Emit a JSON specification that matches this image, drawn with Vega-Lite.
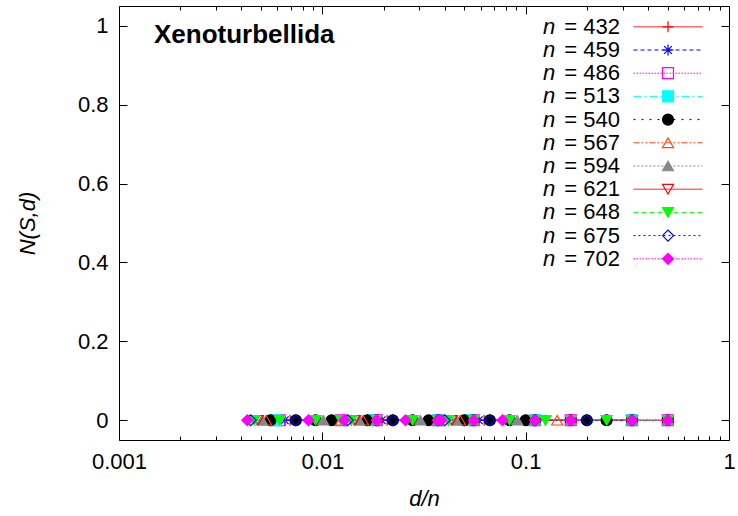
{
  "$schema": "https://vega.github.io/schema/vega-lite/v6.json",
  "width": 610,
  "height": 434,
  "autosize": {"type": "none"},
  "padding": {"left": 119, "top": 6, "right": 9, "bottom": 76},
  "background": "white",
  "config": {
    "font": "Liberation Sans",
    "view": {"stroke": null},
    "axis": {"grid": false, "domainColor": "#000", "tickColor": "#000", "tickOpacity": 1, "labelColor": "#000", "titleColor": "#000", "labelFontSize": 22, "titleFontSize": 22, "titleFontWeight": "normal", "domainWidth": 1, "tickWidth": 1},
    "legend": {"labelColor": "#000", "labelFontSize": 22, "labelFont": "Liberation Sans"}
  },
  "title": {"text": "Xenoturbellida", "anchor": "start", "frame": "group", "orient": "top", "offset": -42, "dx": 35, "fontSize": 26, "fontWeight": "bold", "font": "Liberation Sans", "color": "#000"},
  "data": {"values": [
    {"n":432,"dn":0.006944,"N":0},{"n":432,"dn":0.009259,"N":0},{"n":432,"dn":0.013889,"N":0},{"n":432,"dn":0.018519,"N":0},{"n":432,"dn":0.020833,"N":0},{"n":432,"dn":0.027778,"N":0},{"n":432,"dn":0.037037,"N":0},{"n":432,"dn":0.041667,"N":0},{"n":432,"dn":0.055556,"N":0},{"n":432,"dn":0.0625,"N":0},{"n":432,"dn":0.083333,"N":0},{"n":432,"dn":0.111111,"N":0},{"n":432,"dn":0.125,"N":0},{"n":432,"dn":0.166667,"N":0},{"n":432,"dn":0.25,"N":0},{"n":432,"dn":0.333333,"N":0},{"n":432,"dn":0.5,"N":0},
    {"n":459,"dn":0.006536,"N":0},{"n":459,"dn":0.019608,"N":0},{"n":459,"dn":0.037037,"N":0},{"n":459,"dn":0.058824,"N":0},{"n":459,"dn":0.111111,"N":0},{"n":459,"dn":0.333333,"N":0},
    {"n":486,"dn":0.006173,"N":0},{"n":486,"dn":0.012346,"N":0},{"n":486,"dn":0.018519,"N":0},{"n":486,"dn":0.037037,"N":0},{"n":486,"dn":0.055556,"N":0},{"n":486,"dn":0.111111,"N":0},{"n":486,"dn":0.166667,"N":0},{"n":486,"dn":0.333333,"N":0},{"n":486,"dn":0.5,"N":0},
    {"n":513,"dn":0.005848,"N":0},{"n":513,"dn":0.017544,"N":0},{"n":513,"dn":0.037037,"N":0},{"n":513,"dn":0.052632,"N":0},{"n":513,"dn":0.111111,"N":0},{"n":513,"dn":0.333333,"N":0},
    {"n":540,"dn":0.005556,"N":0},{"n":540,"dn":0.007407,"N":0},{"n":540,"dn":0.009259,"N":0},{"n":540,"dn":0.011111,"N":0},{"n":540,"dn":0.016667,"N":0},{"n":540,"dn":0.018519,"N":0},{"n":540,"dn":0.022222,"N":0},{"n":540,"dn":0.027778,"N":0},{"n":540,"dn":0.033333,"N":0},{"n":540,"dn":0.037037,"N":0},{"n":540,"dn":0.05,"N":0},{"n":540,"dn":0.055556,"N":0},{"n":540,"dn":0.066667,"N":0},{"n":540,"dn":0.083333,"N":0},{"n":540,"dn":0.1,"N":0},{"n":540,"dn":0.111111,"N":0},{"n":540,"dn":0.166667,"N":0},{"n":540,"dn":0.2,"N":0},{"n":540,"dn":0.25,"N":0},{"n":540,"dn":0.333333,"N":0},{"n":540,"dn":0.5,"N":0},
    {"n":567,"dn":0.005291,"N":0},{"n":567,"dn":0.012346,"N":0},{"n":567,"dn":0.015873,"N":0},{"n":567,"dn":0.037037,"N":0},{"n":567,"dn":0.047619,"N":0},{"n":567,"dn":0.111111,"N":0},{"n":567,"dn":0.142857,"N":0},{"n":567,"dn":0.333333,"N":0},
    {"n":594,"dn":0.005051,"N":0},{"n":594,"dn":0.010101,"N":0},{"n":594,"dn":0.015152,"N":0},{"n":594,"dn":0.018519,"N":0},{"n":594,"dn":0.030303,"N":0},{"n":594,"dn":0.037037,"N":0},{"n":594,"dn":0.045455,"N":0},{"n":594,"dn":0.055556,"N":0},{"n":594,"dn":0.090909,"N":0},{"n":594,"dn":0.111111,"N":0},{"n":594,"dn":0.166667,"N":0},{"n":594,"dn":0.333333,"N":0},{"n":594,"dn":0.5,"N":0},
    {"n":621,"dn":0.004831,"N":0},{"n":621,"dn":0.014493,"N":0},{"n":621,"dn":0.037037,"N":0},{"n":621,"dn":0.043478,"N":0},{"n":621,"dn":0.111111,"N":0},{"n":621,"dn":0.333333,"N":0},
    {"n":648,"dn":0.00463,"N":0},{"n":648,"dn":0.006173,"N":0},{"n":648,"dn":0.009259,"N":0},{"n":648,"dn":0.012346,"N":0},{"n":648,"dn":0.013889,"N":0},{"n":648,"dn":0.018519,"N":0},{"n":648,"dn":0.027778,"N":0},{"n":648,"dn":0.037037,"N":0},{"n":648,"dn":0.041667,"N":0},{"n":648,"dn":0.055556,"N":0},{"n":648,"dn":0.083333,"N":0},{"n":648,"dn":0.111111,"N":0},{"n":648,"dn":0.125,"N":0},{"n":648,"dn":0.166667,"N":0},{"n":648,"dn":0.25,"N":0},{"n":648,"dn":0.333333,"N":0},{"n":648,"dn":0.5,"N":0},
    {"n":675,"dn":0.004444,"N":0},{"n":675,"dn":0.007407,"N":0},{"n":675,"dn":0.013333,"N":0},{"n":675,"dn":0.022222,"N":0},{"n":675,"dn":0.037037,"N":0},{"n":675,"dn":0.04,"N":0},{"n":675,"dn":0.066667,"N":0},{"n":675,"dn":0.111111,"N":0},{"n":675,"dn":0.2,"N":0},{"n":675,"dn":0.333333,"N":0},
    {"n":702,"dn":0.004274,"N":0},{"n":702,"dn":0.008547,"N":0},{"n":702,"dn":0.012821,"N":0},{"n":702,"dn":0.018519,"N":0},{"n":702,"dn":0.025641,"N":0},{"n":702,"dn":0.037037,"N":0},{"n":702,"dn":0.038462,"N":0},{"n":702,"dn":0.055556,"N":0},{"n":702,"dn":0.076923,"N":0},{"n":702,"dn":0.111111,"N":0},{"n":702,"dn":0.166667,"N":0},{"n":702,"dn":0.333333,"N":0},{"n":702,"dn":0.5,"N":0}
  ]},
  "layer": [
    {
      "mark": {"type": "point", "opacity": 0, "size": 1},
      "encoding": {
        "x": {"field": "dn", "type": "quantitative",
          "axis": {"orient": "top", "offset": -434, "domain": false, "labels": false, "title": null,
            "values": [0.001,0.002,0.003,0.004,0.005,0.006,0.007,0.008,0.009,0.01,0.02,0.03,0.04,0.05,0.06,0.07,0.08,0.09,0.1,0.2,0.3,0.4,0.5,0.6,0.7,0.8,0.9,1],
            "tickSize": {"condition": {"test": "datum.value == 0.001 || datum.value == 0.01 || datum.value == 0.1 || datum.value == 1", "value": 8}, "value": 4}}},
        "y": {"field": "N", "type": "quantitative",
          "axis": {"orient": "right", "offset": -610, "domain": false, "labels": false, "title": null,
            "values": [0, 0.2, 0.4, 0.6, 0.8, 1], "tickSize": 8}}
      }
    },
    {
      "mark": {"type": "point", "opacity": 0, "size": 1},
      "encoding": {
        "x": {"field": "dn", "type": "quantitative",
          "axis": {"orient": "bottom", "offset": -434, "domain": false, "labels": false, "title": null,
            "values": [0.001,0.002,0.003,0.004,0.005,0.006,0.007,0.008,0.009,0.01,0.02,0.03,0.04,0.05,0.06,0.07,0.08,0.09,0.1,0.2,0.3,0.4,0.5,0.6,0.7,0.8,0.9,1],
            "tickSize": {"condition": {"test": "datum.value == 0.001 || datum.value == 0.01 || datum.value == 0.1 || datum.value == 1", "value": 8}, "value": 4}}},
        "y": {"field": "N", "type": "quantitative",
          "axis": {"orient": "left", "offset": -610, "domain": false, "labels": false, "title": null,
            "values": [0, 0.2, 0.4, 0.6, 0.8, 1], "tickSize": 8}}
      }
    },
    {
      "mark": {"type": "line", "strokeWidth": 1},
      "encoding": {
        "x": {"field": "dn", "type": "quantitative",
          "scale": {"type": "log", "domain": [0.001, 1], "nice": false},
          "axis": {"orient": "bottom", "ticks": false,
            "values": [0.001, 0.01, 0.1, 1],
            "labelExpr": "datum.value == 0.001 ? '0.001' : datum.value == 0.01 ? '0.01' : datum.value == 0.1 ? '0.1' : datum.value == 1 ? '1' : ''",
            "labelPadding": 11, "labelOverlap": false, "labelFlush": false, "labelBound": false,
            "title": "d/n", "titleFontStyle": "italic", "titleX": 305, "titleY": 58, "titleBaseline": "middle", "titleAlign": "center"}},
        "y": {"field": "N", "type": "quantitative",
          "scale": {"domain": [-0.05, 1.05], "nice": false, "zero": false},
          "axis": {"orient": "left", "ticks": false, "values": [0, 0.2, 0.4, 0.6, 0.8, 1], "format": "~g",
            "labelPadding": 11,
            "title": "N(S,d)", "titleFontStyle": "italic", "titleX": -92, "titleY": 217, "titleBaseline": "middle", "titleAlign": "center", "titleAngle": 270}},
        "color": {"field": "n", "type": "nominal",
          "scale": {"domain": [432,459,486,513,540,567,594,621,648,675,702],
                    "range": ["#ff0000","#0000ff","#ff00ff","#00ffff","#000000","#ff4500","#888888","#ff0000","#00ff00","#0000ff","#ff00ff"]},
          "legend": {"orient": "none", "legendX": 538, "legendY": 9.8, "title": null, "padding": 0,
            "symbolType": "M-6.3,0H6.3", "symbolSize": 120, "symbolStrokeWidth": 1, "rowPadding": 1.2,
            "labelExpr": "'n'", "labelFontStyle": "italic", "labelAlign": "left", "labelOffset": -136, "labelBaseline": "middle"}},
        "strokeDash": {"field": "n", "type": "nominal",
          "scale": {"domain": [432,459,486,513,540,567,594,621,648,675,702],
                    "range": [[1,0],[4,3],[1.5,1.5],[8,3,2,3],[2,6],[6,2,2,2,2,2],[2,2],[1,0],[5,3],[2,3],[1.5,1.5]]}}
      }
    },
    {
      "mark": {"type": "point", "opacity": 1, "size": 120, "strokeWidth": 1.2, "filled": false},
      "encoding": {
        "x": {"field": "dn", "type": "quantitative",
          "axis": {"orient": "top", "ticks": false, "labels": false, "title": null, "values": [0.001, 1]}},
        "y": {"field": "N", "type": "quantitative",
          "axis": {"orient": "right", "ticks": false, "labels": false, "title": null, "values": [0, 1]}},
        "shape": {"field": "n", "type": "nominal",
          "scale": {"range": ["M-1,0L1,0M0,-1L0,1", "M-1,0L1,0M0,-1L0,1M-0.7,-0.7L0.7,0.7M-0.7,0.7L0.7,-0.7", "square", "square", "circle", "triangle-up", "triangle-up", "triangle-down", "triangle-down", "diamond", "diamond"]},
          "legend": {"orient": "none", "legendX": 538, "legendY": 9.8, "title": null, "padding": 0,
            "symbolSize": 120, "symbolStrokeWidth": 1.2, "rowPadding": 1.2,
            "labelExpr": "'= ' + datum.label", "labelAlign": "right", "labelOffset": -59, "labelBaseline": "middle"}},
        "stroke": {"field": "n", "type": "nominal",
          "scale": {"range": ["#ff0000","#0000ff","#ff00ff","#00ffff","#000000","#ff4500","#888888","#ff0000","#00ff00","#0000ff","#ff00ff"]}},
        "fill": {"field": "n", "type": "nominal",
          "scale": {"range": ["transparent","transparent","transparent","#00ffff","#000000","transparent","#888888","transparent","#00ff00","transparent","#ff00ff"]}}
      }
    }
  ],
  "resolve": {"axis": {"x": "independent", "y": "independent"}}
}
